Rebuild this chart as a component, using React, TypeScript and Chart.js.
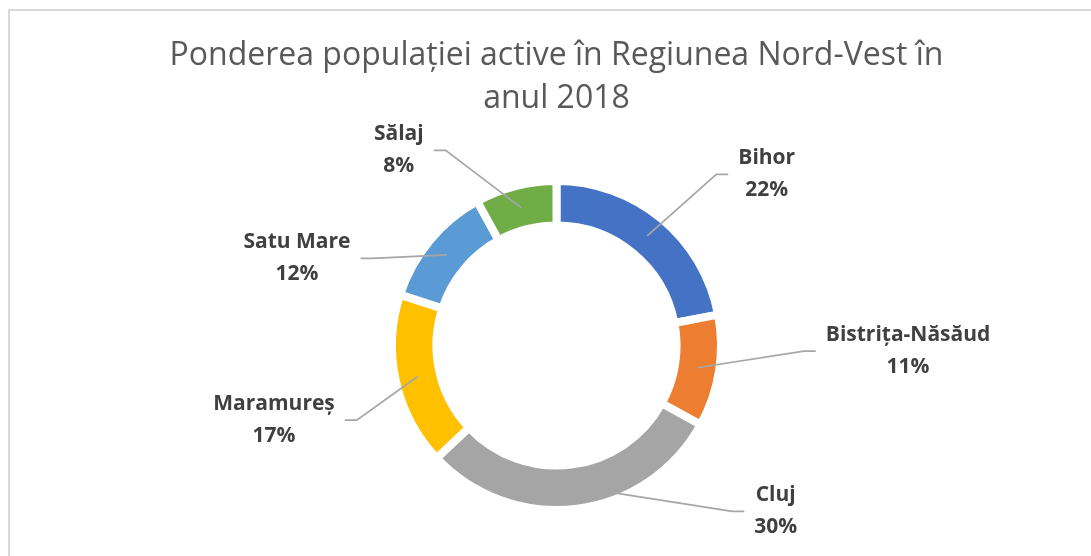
import { useEffect, useRef } from "react";
import { Chart, registerables } from "chart.js";

Chart.register(...registerables);

const categories = ["Bihor", "Bistrița-Năsăud", "Cluj", "Maramureș", "Satu Mare", "Sălaj"];
const shares = [22, 11, 30, 17, 12, 8];
const sliceColors = ["#4472c4", "#ed7d31", "#a5a5a5", "#ffc000", "#5b9bd5", "#70ad47"];
const titleLines = ["Ponderea populației active în Regiunea Nord-Vest în", "anul 2018"];

// label block centre, relative to the slice's mid-ring anchor (layout only)
const labelOffsets: [number, number][] = [
  [119.5, -61.5],
  [211, -16.6],
  [201.4, 24.8],
  [-143.6, 43.6],
  [-149.9, 3.5],
  [-122.3, -57.3],
];

const LABEL_FONT = "bold 21px 'Open Sans'";
const LABEL_COLOR = "#404040";
const LEADER_COLOR = "#a6a6a6";

const leaderLabels = {
  id: "leaderLabels",
  afterDatasetsDraw(chart: any) {
    const ctx = chart.ctx as CanvasRenderingContext2D;
    const meta = chart.getDatasetMeta(0);
    const data = chart.data.datasets[0].data as number[];
    const total = data.reduce((a, b) => a + b, 0);
    ctx.save();
    ctx.font = LABEL_FONT;
    meta.data.forEach((arc: any, i: number) => {
      const p = arc.getProps(["x", "y", "startAngle", "endAngle", "innerRadius", "outerRadius"], true);
      const mid = (p.startAngle + p.endAngle) / 2;
      const r = (p.innerRadius + p.outerRadius) / 2;
      const ax = p.x + Math.cos(mid) * r;
      const ay = p.y + Math.sin(mid) * r;
      const [dx, dy] = labelOffsets[i];
      const cx = ax + dx;
      const cy = ay + dy;
      const l1 = categories[i];
      const l2 = Math.round((data[i] / total) * 100) + "%";
      const w = Math.max(ctx.measureText(l1).width, ctx.measureText(l2).width);
      const side = dx > 0 ? -1 : 1;
      const edgeX = cx + side * (w / 2 + 10);
      const kinkX = edgeX + side * 12;

      ctx.strokeStyle = LEADER_COLOR;
      ctx.lineWidth = 1.75;
      ctx.beginPath();
      ctx.moveTo(ax, ay);
      ctx.lineTo(kinkX, cy);
      ctx.lineTo(edgeX, cy);
      ctx.stroke();

      ctx.fillStyle = LABEL_COLOR;
      ctx.textAlign = "center";
      ctx.textBaseline = "middle";
      ctx.fillText(l1, cx, cy - 16);
      ctx.fillText(l2, cx, cy + 16);
    });
    ctx.restore();
  },
};

export default function App() {
  const canvasRef = useRef<HTMLCanvasElement | null>(null);

  useEffect(() => {
    document.body.style.margin = "0";
    document.documentElement.style.overflow = "hidden";
    const canvas = canvasRef.current;
    if (!canvas) return;
    const chart = new Chart(canvas, {
      type: "doughnut",
      data: {
        labels: categories,
        datasets: [
          {
            data: shares,
            backgroundColor: sliceColors,
            borderColor: "#ffffff",
            borderWidth: 8,
            borderJoinStyle: "miter",
            hoverOffset: 0,
          } as any,
        ],
      },
      options: {
        responsive: false,
        animation: false,
        cutout: "73%",
        layout: { padding: { left: 22, right: 0, top: 0, bottom: 42 } },
        plugins: {
          legend: { display: false },
          tooltip: { enabled: false },
          title: {
            display: true,
            text: titleLines,
            color: "#595959",
            font: { family: "'Open Sans'", size: 32, weight: "normal", lineHeight: 43 / 32 },
            padding: { top: 34, bottom: 57 },
          },
        },
      },
      plugins: [leaderLabels],
    });
    return () => chart.destroy();
  }, []);

  return (
    <div style={{ position: "relative", width: 1091, height: 556, overflow: "hidden", background: "#ffffff" }}>
      <div
        style={{
          position: "absolute",
          left: 8,
          top: 9,
          width: 1200,
          height: 700,
          borderLeft: "2px solid #d9d9d9",
          borderTop: "2px solid #d9d9d9",
        }}
      />
      <canvas ref={canvasRef} width={1091} height={556} style={{ position: "absolute", left: 0, top: 0 }} />
    </div>
  );
}
